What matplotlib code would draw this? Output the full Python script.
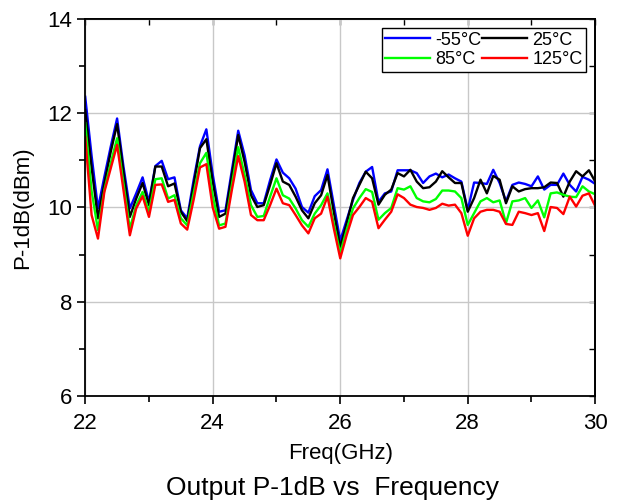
import numpy as np
import matplotlib
matplotlib.use("Agg")
import matplotlib.pyplot as plt

plt.rcParams.update({
    "font.family": ["Liberation Sans", "DejaVu Sans"],
    "axes.linewidth": 1.3,
})

# ---------------- Data ----------------
freq = np.round(np.arange(22.0, 30.001, 0.1), 1)

p_m55 = [12.35, 11.10, 9.98, 10.65, 11.29, 11.89, 10.87, 9.98, 10.30, 10.64,
         10.12, 10.88, 10.99, 10.60, 10.64, 9.94, 9.77, 10.58, 11.30, 11.66,
         10.70, 9.91, 9.94, 10.79, 11.63, 11.11, 10.37, 10.09, 10.09, 10.58,
         11.02, 10.74, 10.62, 10.40, 10.01, 9.89, 10.24, 10.37, 10.81, 10.05,
         9.30, 9.73, 10.16, 10.52, 10.76, 10.86, 10.12, 10.30, 10.34, 10.79,
         10.79, 10.79, 10.73, 10.52, 10.66, 10.72, 10.64, 10.70, 10.62, 10.55,
         9.95, 10.53, 10.52, 10.50, 10.80, 10.52, 10.13, 10.48, 10.53, 10.50,
         10.45, 10.66, 10.38, 10.48, 10.48, 10.72, 10.48, 10.34, 10.65, 10.59,
         10.50]

p_25 = [12.07, 10.85, 9.77, 10.51, 11.18, 11.77, 10.76, 9.80, 10.19, 10.52,
        10.05, 10.87, 10.87, 10.45, 10.51, 9.91, 9.71, 10.48, 11.26, 11.45,
        10.55, 9.80, 9.87, 10.69, 11.54, 10.97, 10.26, 10.01, 10.05, 10.48,
        10.94, 10.55, 10.48, 10.23, 9.94, 9.77, 10.09, 10.26, 10.69, 9.90,
        9.16, 9.66, 10.20, 10.48, 10.76, 10.62, 10.06, 10.27, 10.38, 10.73,
        10.66, 10.80, 10.55, 10.41, 10.43, 10.55, 10.77, 10.64, 10.52, 10.52,
        9.91, 10.20, 10.59, 10.30, 10.67, 10.59, 10.09, 10.45, 10.34, 10.39,
        10.41, 10.41, 10.43, 10.53, 10.52, 10.23, 10.55, 10.77, 10.66, 10.79,
        10.55]

p_85 = [11.79, 10.35, 9.52, 10.37, 10.94, 11.47, 10.51, 9.55, 10.05, 10.33,
        9.91, 10.60, 10.62, 10.19, 10.26, 9.77, 9.62, 10.30, 10.94, 11.16,
        10.25, 9.62, 9.66, 10.48, 11.28, 10.69, 10.05, 9.80, 9.82, 10.23,
        10.62, 10.26, 10.19, 9.98, 9.73, 9.59, 9.87, 10.05, 10.30, 9.65,
        9.03, 9.52, 9.98, 10.20, 10.39, 10.33, 9.74, 9.88, 9.99, 10.41,
        10.38, 10.45, 10.20, 10.13, 10.11, 10.18, 10.36, 10.36, 10.34, 10.20,
        9.63, 9.88, 10.13, 10.20, 10.11, 10.15, 9.67, 10.13, 10.15, 10.20,
        9.99, 10.15, 9.79, 10.30, 10.32, 10.27, 10.23, 10.22, 10.45, 10.34,
        10.28]

p_125 = [11.50, 9.84, 9.34, 10.33, 10.83, 11.33, 10.37, 9.41, 9.98, 10.24,
         9.80, 10.48, 10.49, 10.12, 10.16, 9.66, 9.53, 10.16, 10.85, 10.92,
         10.00, 9.55, 9.59, 10.37, 11.09, 10.55, 9.84, 9.73, 9.73, 10.05,
         10.40, 10.09, 10.05, 9.84, 9.62, 9.45, 9.77, 9.87, 10.23, 9.55,
         8.92, 9.41, 9.84, 10.01, 10.20, 10.12, 9.56, 9.74, 9.91, 10.28,
         10.20, 10.06, 10.01, 9.99, 9.95, 9.99, 10.08, 10.04, 10.06, 9.88,
         9.40, 9.77, 9.91, 9.95, 9.95, 9.91, 9.65, 9.63, 9.91, 9.88,
         9.84, 9.88, 9.50, 10.01, 9.99, 9.86, 10.23, 10.02, 10.25, 10.30,
         10.03]

series = [
    ("-55°C", p_m55, "#0000ff"),
    ("85°C", p_85, "#00ff00"),
    ("25°C", p_25, "#000000"),
    ("125°C", p_125, "#ff0000"),
]
draw_order = [0, 2, 1, 3]

# ---------------- Figure ----------------
fig = plt.figure(figsize=(6.22, 5.03), dpi=100)
ax = fig.add_axes([0.137, 0.213, 0.820, 0.749])

lines = {}
for i in draw_order:
    label, vals, col = series[i]
    lines[i], = ax.plot(freq, vals, color=col, lw=1.7, label=label)

ax.set_xlim(22, 30)
ax.set_ylim(6, 14)
ax.set_xticks([22, 24, 26, 28, 30])
ax.set_yticks([6, 8, 10, 12, 14])
ax.set_xticks([23, 25, 27, 29], minor=True)
ax.set_yticks([7, 9, 11, 13], minor=True)
ax.grid(True, which="major", color="#c8c8c8", lw=1.0)
ax.set_axisbelow(True)
ax.tick_params(which="major", direction="out", length=6, width=1.2, labelsize=16)
ax.tick_params(axis="x", which="major", pad=6)
ax.tick_params(which="minor", direction="out", length=4, width=1.2)

# mirrored inward ticks on top/right
top = ax.secondary_xaxis("top")
top.set_xticks([22, 24, 26, 28, 30])
top.set_xticks([23, 25, 27, 29], minor=True)
top.tick_params(which="both", direction="in", labeltop=False, length=4, width=1.0)
right = ax.secondary_yaxis("right")
right.set_yticks([6, 8, 10, 12, 14])
right.set_yticks([7, 9, 11, 13], minor=True)
right.tick_params(which="both", direction="in", labelright=False, length=4, width=1.0)

ax.set_xlabel("Freq(GHz)", fontsize=16, labelpad=7)
ax.set_ylabel("P-1dB(dBm)", fontsize=16, labelpad=10)
fig.text(0.535, 0.030, "Output P-1dB vs  Frequency", ha="center", va="center", fontsize=19)

leg = ax.legend([lines[i] for i in range(4)], [series[i][0] for i in range(4)],
                ncol=2, loc="upper right", fontsize=13, frameon=True, fancybox=False,
                edgecolor="black", framealpha=1, handlelength=2.5, handletextpad=0.3,
                columnspacing=0.0, borderpad=0.2, labelspacing=0.15, borderaxespad=0.5)
leg.get_frame().set_linewidth(1.0)

fig.savefig("out.png", dpi=100)
